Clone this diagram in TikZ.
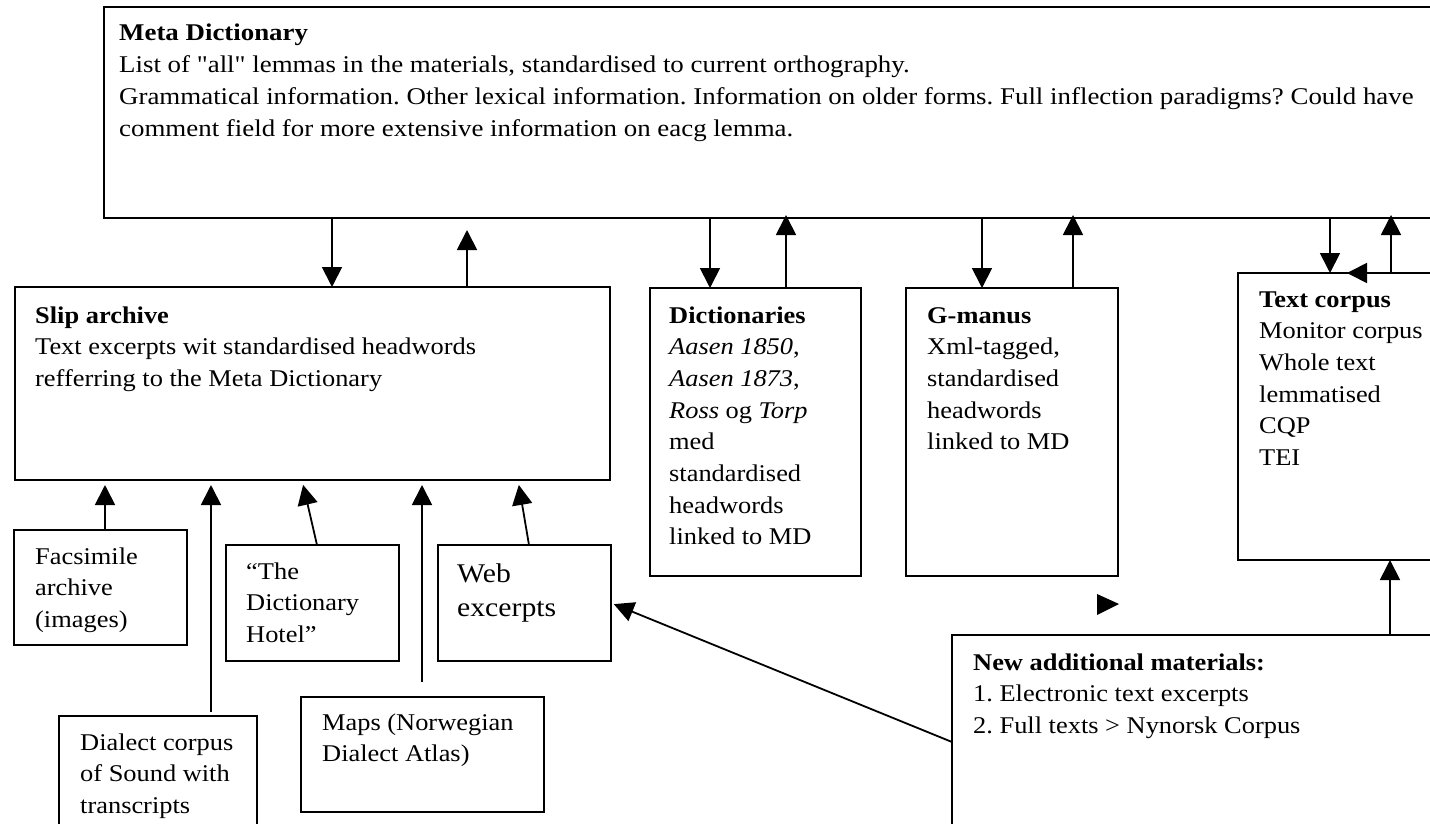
\documentclass[tikz,border=0pt]{standalone}
\usepackage{fontspec}
\setmainfont[FakeStretch=1.1]{Liberation Serif}
\newfontfamily\mdfont[FakeStretch=1.12]{Liberation Serif}
\usetikzlibrary{arrows.meta}
\frenchspacing
\begin{document}
\begin{tikzpicture}[x=1pt,y=-1pt,
  box/.style={draw, line width=1.8pt, inner sep=0pt, outer sep=0pt, anchor=north west},
  txt/.style={anchor=base west, align=left, inner sep=0pt, font=\frenchspacing\fontsize{24}{31.7}\selectfont},
  mdtxt/.style={anchor=base west, align=left, inner sep=0pt, font=\frenchspacing\mdfont\fontsize{24}{32.3}\selectfont},
  bigtxt/.style={anchor=base west, align=left, inner sep=0pt, font=\frenchspacing\fontsize{27}{34}\selectfont},
  arr/.style={line width=1.8pt, -{Triangle[length=20pt,width=20pt]}}]
\useasboundingbox (0,0) rectangle (1430,824);
\clip (0,0) rectangle (1430,824);
\fill[white] (0,0) rectangle (1430,824);

% boxes
\node[box, minimum width=1345pt, minimum height=211pt] (md) at (104,7) {};
\node[box, minimum width=595pt, minimum height=193pt] (slip) at (15,287) {};
\node[box, minimum width=211pt, minimum height=288pt] (dict) at (650,288) {};
\node[box, minimum width=212pt, minimum height=288pt] (gman) at (906,288) {};
\node[box, minimum width=210pt, minimum height=287pt] (tc) at (1238,273) {};
\node[box, minimum width=173pt, minimum height=115pt] (fac) at (14,530) {};
\node[box, minimum width=173pt, minimum height=116pt] (hotel) at (226,545) {};
\node[box, minimum width=173pt, minimum height=116pt] (web) at (438,545) {};
\node[box, minimum width=198pt, minimum height=130pt] (dia) at (59,716) {};
\node[box, minimum width=243pt, minimum height=115pt] (maps) at (301,697) {};
\node[box, minimum width=500pt, minimum height=210pt] (new) at (952,635) {};

% texts (anchored at the baseline of their last line)
\node[mdtxt] (mdt) at (119,137) {\textbf{Meta Dictionary}\\
List of "all" lemmas in the materials, standardised to current orthography.\\
Grammatical information. Other lexical information. Information on older forms. Full inflection paradigms? Could have\\
comment field for more extensive information on eacg lemma.};
\node[txt] (slipt) at (35,386.4) {\textbf{Slip archive}\\
Text excerpts wit standardised headwords\\
refferring to the Meta Dictionary};
\node[txt] (dictt) at (669,544.9) {\textbf{Dictionaries}\\
\textit{Aasen 1850},\\
\textit{Aasen 1873},\\
\textit{Ross} og \textit{Torp}\\
med\\
standardised\\
headwords\\
linked to MD};
\node[txt] (gmant) at (927,449.8) {\textbf{G-manus}\\
Xml-tagged,\\
standardised\\
headwords\\
linked to MD};
\node[txt] (tct) at (1259,465.5) {\textbf{Text corpus}\\
Monitor corpus\\
Whole text\\
lemmatised\\
CQP\\
TEI};
\node[txt] (fact) at (35,627.4) {Facsimile\\archive\\(images)};
\node[txt] (hotelt) at (246,642.4) {“The\\Dictionary\\Hotel”};
\node[bigtxt] (webt) at (457,616) {Web\\excerpts};
\node[txt] (diat) at (80,813.4) {Dialect corpus\\of Sound with\\transcripts};
\node[txt] (mapst) at (322,761.7) {Maps (Norwegian\\Dialect Atlas)};
\node[txt] (newt) at (973,733.4) {\textbf{New additional materials:}\\
1. Electronic text excerpts\\
2. Full texts > Nynorsk Corpus};

% connectors to/from Meta Dictionary
\draw[arr] (332,0 |- md.south) -- (332,0 |- slip.north);
\draw[arr, shorten >=12pt] (467,0 |- slip.north) -- (467,0 |- md.south);
\draw[arr] (710,0 |- md.south) -- (710,0 |- dict.north);
\draw[arr, shorten >=-3pt] (786,0 |- dict.north) -- (786,0 |- md.south);
\draw[arr] (982,0 |- md.south) -- (982,0 |- gman.north);
\draw[arr, shorten >=-3pt] (1073,0 |- gman.north) -- (1073,0 |- md.south);
\draw[arr] (1330,0 |- md.south) -- (1330,0 |- tc.north);
\draw[arr, shorten >=-3pt] (1391,0 |- tc.north) -- (1391,0 |- md.south);
\draw[arr] (1391,0 |- tc.north) -- (1347,0 |- tc.north);

% connectors into slip archive
\draw[arr, shorten >=5pt] (105,0 |- fac.north) -- (105,0 |- slip.south);
\draw[arr, shorten <=4pt, shorten >=5pt] (211,0 |- dia.north) -- (211,0 |- slip.south);
\draw[arr, shorten >=5pt] (317,0 |- hotel.north) -- (302,0 |- slip.south);
\draw[arr, shorten <=15pt, shorten >=5pt] (422,0 |- maps.north) -- (422,0 |- slip.south);
\draw[arr, shorten >=5pt] (529,0 |- web.north) -- (518,0 |- slip.south);

% new materials
\draw[arr, shorten >=3pt] (new.west |- 0,742) -- (web.east |- 0,603);
\draw[arr] (1390,0 |- new.north) -- (1390,0 |- tc.south);

% stray arrowhead
\fill (1097,594) -- (1119,604) -- (1097,615) -- cycle;
\end{tikzpicture}
\end{document}
